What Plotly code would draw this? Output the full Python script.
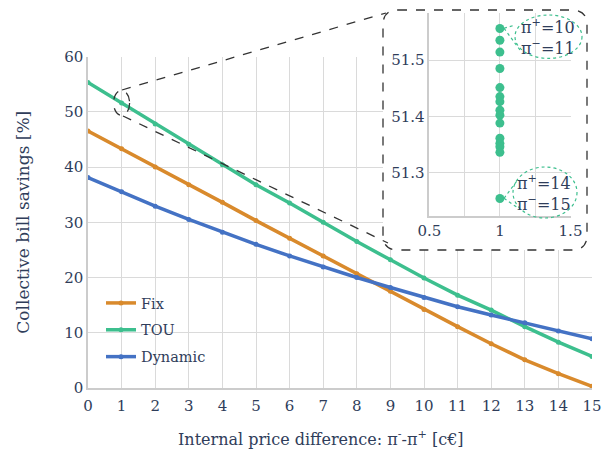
import plotly.graph_objects as go

# ---------------- data ----------------
price_diff = list(range(16))
fix_savings = [46.5, 43.3, 40.0, 36.8, 33.6, 30.3, 27.1, 23.9, 20.7, 17.5, 14.2, 11.1, 8.0, 5.1, 2.6, 0.3]
tou_savings = [55.3, 51.6, 47.8, 44.1, 40.4, 36.8, 33.5, 30.0, 26.5, 23.2, 19.9, 16.8, 14.1, 11.1, 8.3, 5.7]
dyn_savings = [38.1, 35.5, 32.9, 30.5, 28.2, 26.0, 23.9, 21.9, 20.0, 18.2, 16.4, 14.7, 13.2, 11.8, 10.3, 8.9]

inset_x = [1] * 15
inset_tou = [51.556, 51.535, 51.514, 51.485, 51.451, 51.435, 51.426, 51.411,
             51.402, 51.388, 51.361, 51.352, 51.346, 51.336, 51.254]

main_xticks = list(range(16))
main_yticks = [0, 10, 20, 30, 40, 50, 60]
inset_xticks = [0.5, 1, 1.5]
inset_yticks = [51.3, 51.4, 51.5]

# ---------------- style ----------------
FONT = "DejaVu Serif"
TXT = "#2f3d5a"
GRID = "#dadada"
AXL = "#cccccc"
C_FIX = "#d98a2c"
C_TOU = "#3dbf8e"
C_DYN = "#4472c4"

OFF = 8  # page body margin of the browser
W, H = 612 - OFF, 455 - OFF
ML, MR, MT, MB = 80, 20, 2, 67
PW, PH = W - ML - MR, H - MT - MB


def X(px):  # reference-pixel x -> paper
    return (px - OFF - ML) / PW


def Y(py):  # reference-pixel y -> paper
    return (H - MB - (py - OFF)) / PH


main_top_px = 56.5
fig = go.Figure()

for name, vals, col in [("Fix", fix_savings, C_FIX), ("TOU", tou_savings, C_TOU), ("Dynamic", dyn_savings, C_DYN)]:
    fig.add_trace(go.Scatter(x=price_diff, y=vals, name=name, mode="lines+markers", legendgroup=name,
                             line=dict(color=col, width=3.5), marker=dict(color=col, size=5),
                             xaxis="x", yaxis="y"))

fig.add_trace(go.Scatter(x=inset_x, y=inset_tou, mode="markers", showlegend=False,
                         marker=dict(color=C_TOU, size=9), xaxis="x2", yaxis="y2"))

axis_common = dict(showgrid=True, gridcolor=GRID, gridwidth=1.2, showline=True, linecolor=AXL,
                   linewidth=1.5, zeroline=False, ticks="", automargin=False,
                   tickfont=dict(size=15, color=TXT, family=FONT))

fig.update_layout(
    width=W, height=H, autosize=False,
    margin=dict(l=ML, r=MR, t=MT, b=MB),
    paper_bgcolor="white", plot_bgcolor="white",
    font=dict(family=FONT, color=TXT),
    xaxis=dict(range=[0, 15], tickvals=main_xticks, domain=[0, 1], anchor="y",
               ticklabelstandoff=3, **axis_common),
    yaxis=dict(range=[0, 60], tickvals=main_yticks, domain=[0, Y(main_top_px)], anchor="x",
               title=dict(text="Collective bill savings [%]",
                          font=dict(size=17, color=TXT, family=FONT), standoff=30),
               **axis_common),
    xaxis2=dict(range=[0.5, 1.5], tickvals=inset_xticks,
                minor=dict(tickvals=[0.75, 1.25], showgrid=True, gridcolor=GRID, gridwidth=1.2, ticks=""),
                domain=[X(429.3), X(570.5)], anchor="y2", **axis_common),
    yaxis2=dict(range=[51.223, 51.584], tickvals=inset_yticks,
                domain=[Y(216), Y(12.7)], anchor="x2", **axis_common),
    legend=dict(x=X(101), y=Y(287), xanchor="left", yanchor="top", bgcolor="rgba(0,0,0,0)",
                font=dict(size=14.5, color=TXT, family=FONT), itemwidth=30, tracegroupgap=5),
)

# x-axis title (placed like the reference, slightly left of the plot centre)
fig.add_annotation(text="Internal price difference: π<sup>-</sup>-π<sup>+</sup> [c€]",
                   x=X(321), y=Y(438), xref="paper", yref="paper", showarrow=False,
                   xanchor="center", yanchor="middle", font=dict(size=16, color=TXT, family=FONT))

# ---------- inset decorations ----------
bl, br, bt, bb, rr = 383, 587, 10, 250, 15


def dx(px):  # reference-pixel x -> main data x
    return (px - 88) / (504 / 15)


def dy(py):  # reference-pixel y -> main data y
    return (388 - py) / ((388 - main_top_px) / 60)


def rounded_path(fx, fy, l, r, t, b, rad):
    return (f"M {fx(l + rad)},{fy(t)} L {fx(r - rad)},{fy(t)} Q {fx(r)},{fy(t)} {fx(r)},{fy(t + rad)} "
            f"L {fx(r)},{fy(b - rad)} Q {fx(r)},{fy(b)} {fx(r - rad)},{fy(b)} "
            f"L {fx(l + rad)},{fy(b)} Q {fx(l)},{fy(b)} {fx(l)},{fy(b - rad)} "
            f"L {fx(l)},{fy(t + rad)} Q {fx(l)},{fy(t)} {fx(l + rad)},{fy(t)} Z")


# white backing (main data coords, between grid and traces)
fig.add_shape(type="path", xref="x", yref="y", layer="between",
              path=rounded_path(dx, dy, bl, br + 30, bt - 60, bb, rr),
              fillcolor="white", line=dict(width=0))

# dashed rounded border
fig.add_shape(type="path", xref="paper", yref="paper", layer="above",
              path=rounded_path(X, Y, bl, br, bt, bb, rr),
              line=dict(color="#333333", width=1.3, dash="dash"))

# small dashed ellipse around the zoomed point
fig.add_shape(type="circle", xref="x", yref="y", layer="above",
              xsizemode="pixel", ysizemode="pixel", xanchor=1, yanchor=51.6,
              x0=-8, x1=8, y0=-12.5, y1=12.5,
              line=dict(color="#333333", width=1.3, dash="dash"))

# connector lines
fig.add_shape(type="line", xref="paper", yref="paper", layer="above",
              x0=X(122), y0=Y(90), x1=X(386), y1=Y(13),
              line=dict(color="#333333", width=1.3, dash="dash"))
fig.add_shape(type="line", xref="paper", yref="paper", layer="above",
              x0=X(123), y0=Y(116), x1=X(388), y1=Y(243),
              line=dict(color="#333333", width=1.3, dash="dash"))

# callout ellipses + wedges
callouts = [
    dict(cx=548.5, cy=36.7, rx=33.5, ry=21.7, px=500, py=28.3, l1=(515, 25), l2=(520, 50),
         text="π<sup>+</sup>=10<br>π<sup>−</sup>=11"),
    dict(cx=545, cy=192.5, rx=32, ry=25.5, px=500, py=198.3, l1=(516.5, 181.5), l2=(518, 208),
         text="π<sup>+</sup>=14<br>π<sup>−</sup>=15"),
]
for c in callouts:
    fig.add_shape(type="circle", xref="paper", yref="paper", layer="above",
                  x0=X(c["cx"] - c["rx"]), x1=X(c["cx"] + c["rx"]),
                  y0=Y(c["cy"] + c["ry"]), y1=Y(c["cy"] - c["ry"]),
                  line=dict(color=C_TOU, width=1.2, dash="dot"))
    for (lx, ly) in (c["l1"], c["l2"]):
        fig.add_shape(type="line", xref="paper", yref="paper", layer="above",
                      x0=X(c["px"] + 4), y0=Y(c["py"]), x1=X(lx), y1=Y(ly),
                      line=dict(color=C_TOU, width=1.2, dash="dot"))
    fig.add_annotation(x=X(c["cx"] - 1), y=Y(c["cy"]), xref="paper", yref="paper",
                       text=c["text"], showarrow=False, xanchor="center", yanchor="middle",
                       font=dict(size=16, color=TXT, family=FONT))

fig.write_html("out.html")
